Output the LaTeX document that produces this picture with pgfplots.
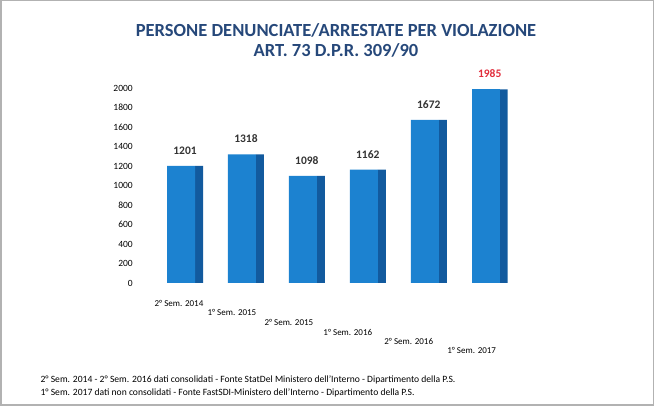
\documentclass[border=0pt]{standalone}
\usepackage{fontspec}
\setmainfont{Carlito}
\usepackage{pgfplots}
\pgfplotsset{compat=1.18}
\definecolor{titleblue}{RGB}{38,72,122}
\definecolor{barblue}{RGB}{28,130,208}
\definecolor{barside}{RGB}{18,90,158}
\definecolor{valred}{RGB}{225,45,60}
\newcommand{\lbl}[3]{\raisebox{#2}[0pt][0pt]{\makebox[0pt]{\hspace*{#1}\hspace*{#1}#3}}}
\begin{document}
\begin{tikzpicture}
\draw[gray!60, line width=1.5pt] (0.75pt,0.75pt) rectangle (653.25pt,405.25pt);
\node[font=\fontsize{18.5}{20}\selectfont\bfseries, text=titleblue, align=center] at (336pt,366pt) {PERSONE DENUNCIATE/ARRESTATE PER VIOLAZIONE\\ART. 73 D.P.R. 309/90};
\begin{axis}[
  at={(185pt,123pt)}, anchor=origin,
  scale only axis, width=390pt, height=195pt,
  xmin=-0.8, xmax=5.6, ymin=0, ymax=2000,
  clip=false,
  axis line style={draw=none},
  tick style={draw=none},
  ytick={0,200,...,2000},
  xtick={0,1,2,3,4,5},
  xticklabels={
    \lbl{-6pt}{-20pt}{2° Sem. 2014},
    \lbl{-14pt}{-29pt}{1° Sem. 2015},
    \lbl{-18pt}{-39pt}{2° Sem. 2015},
    \lbl{-20pt}{-49pt}{1° Sem. 2016},
    \lbl{-20pt}{-58pt}{2° Sem. 2016},
    \lbl{-18pt}{-67pt}{1° Sem. 2017}},
  xticklabel style={font=\fontsize{9}{10}\selectfont},
  yticklabel style={font=\fontsize{9.5}{10}\selectfont},
  /pgf/number format/1000 sep={},
  /pgf/number format/assume math mode=true,
  nodes near coords style={font=\fontsize{11.5}{12}\selectfont\bfseries, yshift=8pt},
]
\addplot[ybar, bar width=8pt, bar shift=14pt, fill=barside, draw=none]
  coordinates {(0,1201) (1,1318) (2,1098) (3,1162) (4,1672) (5,1985)};
\addplot[ybar, bar width=28pt, bar shift=-4pt, fill=barblue, draw=none,
  nodes near coords, nodes near coords style={text=black!80}]
  coordinates {(0,1201) (1,1318) (2,1098) (3,1162) (4,1672)};
\addplot[ybar, bar width=28pt, bar shift=-4pt, fill=barblue, draw=none,
  nodes near coords, nodes near coords style={text=valred}]
  coordinates {(5,1985)};
\end{axis}
\node[anchor=base west, font=\fontsize{9.6}{10}\selectfont] at (37pt,23pt) {2° Sem. 2014 - 2° Sem. 2016 dati consolidati - Fonte StatDel Ministero dell'Interno - Dipartimento della P.S.};
\node[anchor=base west, font=\fontsize{9.6}{10}\selectfont] at (37pt,10pt) {1° Sem. 2017 dati non consolidati - Fonte FastSDI-Ministero dell'Interno - Dipartimento della P.S.};
\end{tikzpicture}
\end{document}
